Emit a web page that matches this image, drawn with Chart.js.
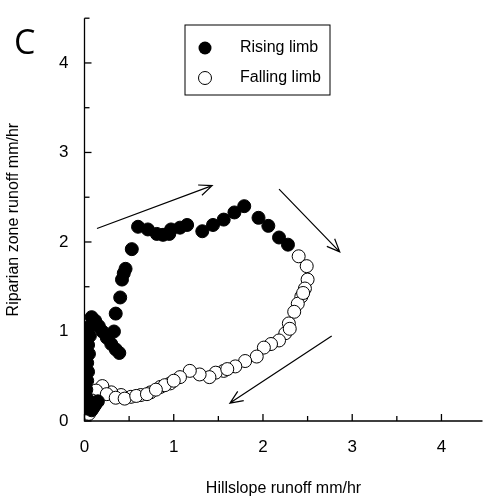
<!DOCTYPE html>
<html><head><meta charset="utf-8">
<script src="https://cdn.jsdelivr.net/npm/chart.js@4/dist/chart.umd.min.js"></script>
<style>body{margin:0;background:#fff}#wrap{width:490px;height:502px}</style>
</head><body><div id="wrap"><canvas id="c"></canvas></div>
<script>
// valores
var risingX = [0.02,0.03,0.02,0.03,0.04,0.03,0.05,0.04,0.06,0.05,0.08,0.12,0.16,0.2,0.25,0.3,0.35,0.39,0.33,0.35,0.4,0.42,0.44,0.46,0.53,0.6,0.71,0.81,0.88,0.95,0.97,1.07,1.15,1.32,1.44,1.56,1.68,1.79,1.95,2.06,2.18,2.28,0.08,0.12,0.15];
var risingY = [0.14,0.25,0.35,0.45,0.55,0.65,0.75,0.85,0.95,1.05,1.16,1.12,1.06,1.0,0.93,0.86,0.8,0.76,1.0,1.2,1.38,1.58,1.65,1.7,1.92,2.17,2.14,2.09,2.08,2.09,2.14,2.16,2.19,2.12,2.19,2.25,2.33,2.4,2.27,2.18,2.05,1.97,0.12,0.18,0.22];
var fallingX = [2.4,2.49,2.5,2.47,2.43,2.39,2.35,2.29,2.25,2.18,2.09,2.01,1.93,1.8,1.69,1.56,1.47,1.4,1.29,1.18,1.07,0.96,0.85,0.74,0.63,0.52,0.41,0.3,0.2,0.13,0.08,0.02,0.05,0.1,0.25,0.35,0.45,0.58,0.7,0.9,0.8,1.0,1.6,2.3,2.45];
var fallingY = [1.84,1.73,1.58,1.48,1.39,1.31,1.22,1.09,0.98,0.9,0.86,0.82,0.72,0.67,0.61,0.56,0.54,0.49,0.52,0.56,0.49,0.42,0.38,0.32,0.29,0.27,0.29,0.32,0.39,0.34,0.23,0.12,0.08,0.15,0.3,0.26,0.25,0.28,0.3,0.4,0.35,0.45,0.58,1.03,1.43];
var xTicks = [0,1,2,3,4];
var yTicks = [0,1,2,3,4];
var arrows = [[0.14,2.15,1.43,2.63],[2.18,2.59,2.86,1.89],[2.77,0.95,1.63,0.2]];
var legendLabels = ['Rising limb','Falling limb'];

function pts(xs, ys){ return xs.map(function(x,i){ return {x:x, y:ys[i]}; }); }
function setTicks(list){ return function(s){ s.ticks = list.map(function(v){ return {value:v}; }); }; }

var extras = {
  id:'extras',
  afterDraw: function(chart){
    var c = chart.ctx, xs = chart.scales.x, ys = chart.scales.y, a = chart.chartArea;
    c.save();
    c.strokeStyle='#000'; c.lineWidth=1.3;
    c.beginPath(); c.moveTo(a.left,a.top); c.lineTo(a.left,a.bottom); c.lineTo(a.right,a.bottom); c.stroke();
    // ticks para dentro
    for (var v=0; v<=4.5; v+=0.5){
      var L = (v%1===0)?7:5;
      var px = xs.getPixelForValue(v); if (px<=a.right){ c.beginPath(); c.moveTo(px,a.bottom); c.lineTo(px,a.bottom-L); c.stroke(); }
      var py = ys.getPixelForValue(v); if (py>=a.top){ c.beginPath(); c.moveTo(a.left,py); c.lineTo(a.left+L,py); c.stroke(); }
    }
    // setas
    c.lineWidth=1.2;
    arrows.forEach(function(r){
      var x1=xs.getPixelForValue(r[0]), y1=ys.getPixelForValue(r[1]), x2=xs.getPixelForValue(r[2]), y2=ys.getPixelForValue(r[3]);
      var ang=Math.atan2(y2-y1,x2-x1);
      c.beginPath(); c.moveTo(x1,y1); c.lineTo(x2,y2);
      c.moveTo(x2-14*Math.cos(ang-0.4), y2-14*Math.sin(ang-0.4)); c.lineTo(x2,y2);
      c.lineTo(x2-14*Math.cos(ang+0.4), y2-14*Math.sin(ang+0.4));
      c.stroke();
    });
    // legenda
    c.lineWidth=1;
    c.strokeRect(185,25,145,70);
    c.font='16px "Liberation Sans", Arial'; c.fillStyle='#000'; c.textBaseline='middle';
    c.beginPath(); c.arc(205,48,6.5,0,Math.PI*2); c.fill();
    c.beginPath(); c.arc(205,78,6.5,0,Math.PI*2); c.fillStyle='#fff'; c.fill(); c.stroke();
    c.fillStyle='#000';
    c.fillText(legendLabels[0],240,48); c.fillText(legendLabels[1],240,78);
    c.font='34px "Open Sans"'; c.fillText('C',14,44);
    c.restore();
  }
};

Chart.defaults.font.family='"Liberation Sans", Arial';
Chart.defaults.font.size=16;
Chart.defaults.color='#000';
new Chart(document.getElementById('c'), {
  type:'scatter',
  data:{ datasets:[
    {label:legendLabels[0], data:pts(risingX,risingY), backgroundColor:'#000', borderColor:'#000', pointRadius:6.5, borderWidth:1},
    {label:legendLabels[1], data:pts(fallingX,fallingY), backgroundColor:'#fff', borderColor:'#000', pointRadius:6.5, borderWidth:1}
  ]},
  options:{
    responsive:true, maintainAspectRatio:false, animation:false,
    layout:{padding:{top:10,right:0,bottom:4,left:0}},
    plugins:{legend:{display:false}, tooltip:{enabled:false}},
    scales:{
      x:{type:'linear', min:0, max:4.46, border:{display:false}, grid:{display:false},
         afterBuildTicks:setTicks(xTicks),
         ticks:{padding:8, autoSkip:false, maxRotation:0, font:{size:17}},
         title:{display:true, text:'Hillslope runoff mm/hr', padding:{top:32,bottom:0}},
         afterFit:function(s){s.height=77;}},
      y:{min:0, max:4.5, border:{display:false}, grid:{display:false},
         afterBuildTicks:setTicks(yTicks),
         ticks:{padding:8, font:{size:17}},
         title:{display:true, text:'Riparian zone runoff mm/hr', padding:{bottom:22}},
         afterFit:function(s){s.width=84.5;}}
    }
  },
  plugins:[extras]
});
</script></body></html>
